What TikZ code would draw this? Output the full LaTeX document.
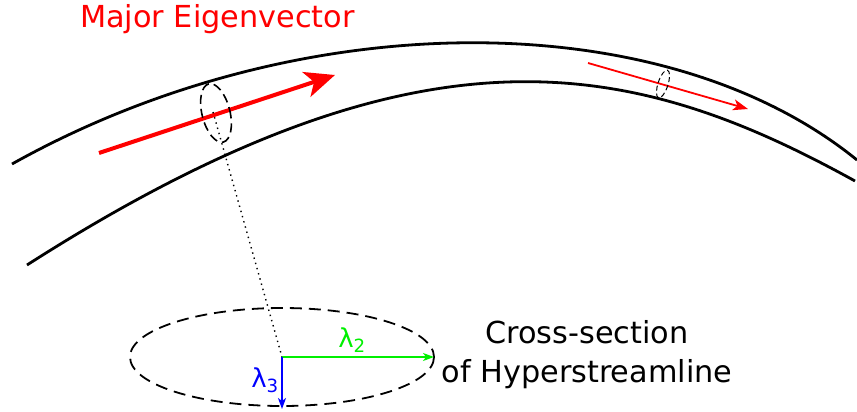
\documentclass[tikz,border=0pt]{standalone}
\usepackage{fontspec}
\setmainfont{DejaVu Sans}
\usetikzlibrary{arrows.meta}
\definecolor{EigRed}{HTML}{FF0000}
\definecolor{EigGreen}{HTML}{00F000}
\definecolor{EigBlue}{HTML}{0000FF}

\begin{document}
\begin{tikzpicture}[x=1pt,y=-1pt,
  tube/.style={line width=2.8pt},
  major/.style={EigRed,line width=4pt,-{Stealth[length=30pt,width=26pt,inset=8pt]}},
  minor/.style={EigRed,line width=1.8pt,-{Stealth[length=15pt,width=11pt,inset=4pt]}},
  ring/.style={line width=1.6pt,dash pattern=on 9pt off 5pt},
  smallring/.style={line width=1pt,dash pattern=on 5pt off 3pt},
  bigring/.style={line width=1.8pt,dash pattern=on 12pt off 7pt},
  axis/.style={line width=1.5pt,-{Stealth[length=11pt,width=8pt,inset=3pt]}},
  lbl/.style={inner sep=0pt,font=\fontsize{30.3}{39}\selectfont},
  lam/.style={inner sep=0pt,font=\fontsize{26}{30}\selectfont}
]
  \path[use as bounding box] (0,0) rectangle (857,412);

  % the tube
  \draw[tube] (12,164) .. controls (300,3) and (664,3) .. (857,160);
  \draw[tube] (27,265) .. controls (424,11) and (634,59) .. (855,181);

  % eigenvectors along the tube
  \coordinate (m1) at (99,153);
  \coordinate (m2) at (335,75);
  \draw[major] (m1) -- (m2);
  \coordinate (n1) at (588,63);
  \coordinate (n2) at (748,109);
  \draw[minor] (n1) -- (n2);

  % cross-sections
  \coordinate (ring) at (216,113);
  \draw[ring,rotate around={14:(ring)}] (ring) ellipse [x radius=14, y radius=30];
  \coordinate (ring2) at (663,84);
  \draw[smallring,rotate around={-18:(ring2)}] (ring2) ellipse [x radius=5, y radius=14.5];

  \coordinate (cs) at (282,357);
  \draw[line width=1.4pt,dash pattern=on 1.4pt off 4pt] (213,112) -- (cs);
  \draw[bigring] (cs) ellipse [x radius=152, y radius=49];

  \coordinate (l2) at (434,357);
  \coordinate (l3) at (282,409);
  \draw[axis,EigGreen] (cs) -- (l2);
  \draw[axis,EigBlue] (cs) -- (l3);

  \node[lam,text=EigGreen] (lam2) at (352,340) {λ\textsubscript{2}};
  \node[lam,text=EigBlue] (lam3) at (265,380) {λ\textsubscript{3}};

  \node[lbl,anchor=base west,text=EigRed] (title) at (80,28) {Major Eigenvector};
  \node[lbl,anchor=north,align=center] (caption) at (587,320) {Cross-section\\of Hyperstreamline};
\end{tikzpicture}
\end{document}
